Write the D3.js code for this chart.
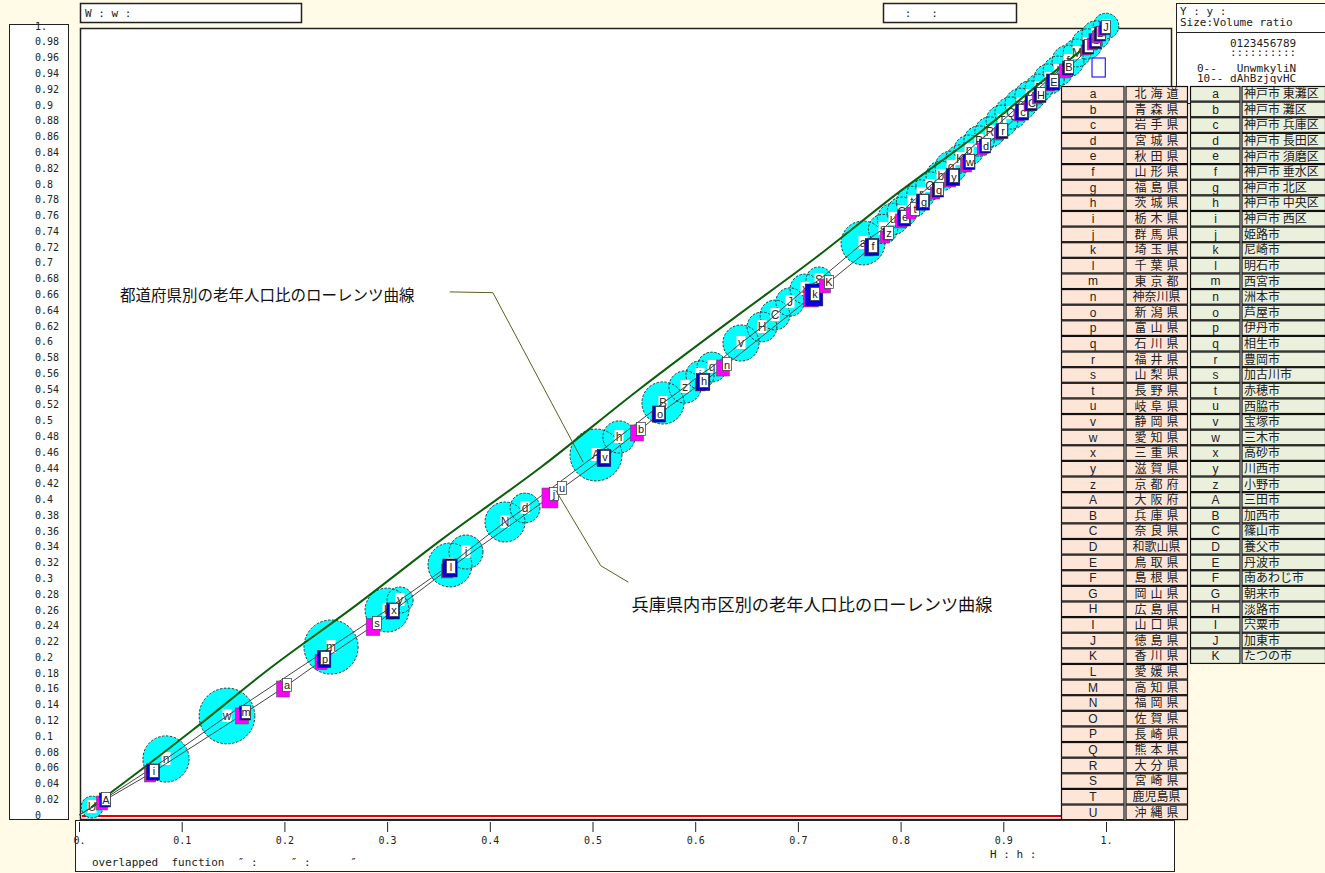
<!DOCTYPE html>
<html><head><meta charset="utf-8">
<script src="https://cdn.jsdelivr.net/npm/d3@7"></script>
<style>body{margin:0;background:#fffbe6;}svg{display:block;}</style>
</head><body>
<svg id="c" width="1325" height="873"></svg>
<script>
// ---------- DATA ----------
const xTickValues=[0,0.1,0.2,0.3,0.4,0.5,0.6,0.7,0.8,0.9,1];
const xTickLabels=["0.","0.1","0.2","0.3","0.4","0.5","0.6","0.7","0.8","0.9","1."];
const yTickValues=[0,0.02,0.04,0.06,0.08,0.1,0.12,0.14,0.16,0.18,0.2,0.22,0.24,0.26,0.28,0.3,0.32,0.34,0.36,0.38,0.4,0.42,0.44,0.46,0.48,0.5,0.52,0.54,0.56,0.58,0.6,0.62,0.64,0.66,0.68,0.7,0.72,0.74,0.76,0.78,0.8,0.82,0.84,0.86,0.88,0.9,0.92,0.94,0.96,0.98,1];
const yTickLabels=["0","0.02","0.04","0.06","0.08","0.1","0.12","0.14","0.16","0.18","0.2","0.22","0.24","0.26","0.28","0.3","0.32","0.34","0.36","0.38","0.4","0.42","0.44","0.46","0.48","0.5","0.52","0.54","0.56","0.58","0.6","0.62","0.64","0.66","0.68","0.7","0.72","0.74","0.76","0.78","0.8","0.82","0.84","0.86","0.88","0.9","0.92","0.94","0.96","0.98","1."];

// prefectures (table)
const prefLetters=["a","b","c","d","e","f","g","h","i","j","k","l","m","n","o","p","q","r","s","t","u","v","w","x","y","z","A","B","C","D","E","F","G","H","I","J","K","L","M","N","O","P","Q","R","S","T","U"];
const prefNames=["北 海 道","青 森 県","岩 手 県","宮 城 県","秋 田 県","山 形 県","福 島 県","茨 城 県","栃 木 県","群 馬 県","埼 玉 県","千 葉 県","東 京 都","神奈川県","新 潟 県","富 山 県","石 川 県","福 井 県","山 梨 県","長 野 県","岐 阜 県","静 岡 県","愛 知 県","三 重 県","滋 賀 県","京 都 府","大 阪 府","兵 庫 県","奈 良 県","和歌山県","鳥 取 県","島 根 県","岡 山 県","広 島 県","山 口 県","徳 島 県","香 川 県","愛 媛 県","高 知 県","福 岡 県","佐 賀 県","長 崎 県","熊 本 県","大 分 県","宮 崎 県","鹿児島県","沖 縄 県"];
// municipalities of Hyogo (table)
const muniLetters=["a","b","c","d","e","f","g","h","i","j","k","l","m","n","o","p","q","r","s","t","u","v","w","x","y","z","A","B","C","D","E","F","G","H","I","J","K"];
const muniNames=["神戸市 東灘区","神戸市 灘区","神戸市 兵庫区","神戸市 長田区","神戸市 須磨区","神戸市 垂水区","神戸市 北区","神戸市 中央区","神戸市 西区","姫路市","尼崎市","明石市","西宮市","洲本市","芦屋市","伊丹市","相生市","豊岡市","加古川市","赤穂市","西脇市","宝塚市","三木市","高砂市","川西市","小野市","三田市","加西市","篠山市","養父市","丹波市","南あわじ市","朝来市","淡路市","宍粟市","加東市","たつの市"];

// prefecture Lorenz curve (sorted order), cumulative share and volume ratio
const prefOrder=["U","n","w","m","k","y","l","i","N","d","A","h","B","z","j","q","v","H","C","J","x","S","a","s","u","G","t","r","O","b","g","K","p","P","R","T","Q","o","L","E","c","I","f","M","e","F","D"];
const prefCumX=[0.0127,0.0847,0.1441,0.2454,0.2999,0.3126,0.3612,0.3768,0.4148,0.4343,0.5034,0.5258,0.5686,0.5901,0.6047,0.6164,0.6446,0.6650,0.6777,0.6923,0.7069,0.7206,0.7634,0.7829,0.7926,0.8014,0.8111,0.8199,0.8286,0.8393,0.8491,0.8578,0.8666,0.8763,0.8870,0.8987,0.9075,0.9172,0.9260,0.9348,0.9445,0.9533,0.9630,0.9718,0.9815,0.9903,1.0];
const prefCumY=[0.0101,0.0710,0.1255,0.2129,0.2598,0.2725,0.3169,0.3333,0.3714,0.3891,0.4563,0.4791,0.5222,0.5425,0.5577,0.5678,0.5982,0.6185,0.6337,0.6502,0.6667,0.6781,0.7250,0.7427,0.7554,0.7643,0.7770,0.7871,0.7972,0.8099,0.8213,0.8314,0.8428,0.8542,0.8656,0.8796,0.8897,0.9011,0.9113,0.9214,0.9328,0.9430,0.9556,0.9658,0.9772,0.9886,1.0];
const prefVolume=[1.6,7.2,10.5,9.9,6.5,2.3,6.5,3.9,5.4,3.0,9.1,3.5,6.0,3.5,2.7,3.0,4.4,3.0,3.0,2.7,3.0,2.3,6.5,2.9,3.3,3.0,3.3,2.7,2.7,3.0,3.4,2.7,3.0,3.1,3.1,3.4,3.5,3.4,3.1,2.6,3.1,3.0,3.4,2.6,3.1,2.7,2.2];

// Hyogo municipalities Lorenz curve (sorted order)
const muniOrder=["A","i","m","a","p","s","x","l","j","u","v","b","o","h","n","k","K","f","z","e","t","g","q","y","w","d","r","c","C","H","E","B","F","I","G","D","J"];
const muniCumX=[0.0253,0.0721,0.1616,0.2016,0.2386,0.2892,0.3057,0.3612,0.4615,0.4693,0.5112,0.5463,0.5648,0.6076,0.6300,0.7157,0.7293,0.7722,0.7877,0.8033,0.8130,0.8218,0.8364,0.8510,0.8666,0.8822,0.8987,0.9182,0.9270,0.9357,0.9484,0.9630,0.9747,0.9825,0.9893,0.9942,0.9990];
const muniCumY=[0.0190,0.0545,0.1293,0.1635,0.1977,0.2421,0.2586,0.3131,0.4056,0.4132,0.4525,0.4880,0.5082,0.5488,0.5703,0.6591,0.6743,0.7199,0.7364,0.7567,0.7668,0.7769,0.7921,0.8086,0.8276,0.8479,0.8669,0.8910,0.9024,0.9125,0.9290,0.9468,0.9607,0.9734,0.9810,0.9899,0.9975];
const muniPopShare=[7.2,9.5,7.2,0,10.7,0.6,9.5,12.0,0,0,10.7,0,9.5,10.7,0,17.9,2.4,10.7,5.3,9.5,0,9.5,7.2,10.7,8.3,7.2,8.3,9.5,8.3,8.3,9.5,7.2,13.4,7.2,8.3,7.2,6.3];
const muniAgedShare=[7.2,7.2,9.5,9.5,8.3,10.7,3.7,7.2,14.8,0,3.7,9.5,3.7,5.3,9.5,12.0,7.2,5.3,5.3,7.2,5.3,3.7,5.3,7.2,7.2,5.3,5.3,5.3,3.7,5.3,5.3,7.2,0,3.7,5.3,5.3,3.7];

// overlapped function curve
const overX=[0.012,0.047,0.111,0.186,0.27,0.353,0.45,0.545,0.64,0.715,0.80,0.878,0.94,1.0];
const overY=[0.010,0.044,0.108,0.186,0.266,0.349,0.441,0.539,0.632,0.704,0.791,0.866,0.932,0.994];

// annotations
const annoTexts=["都道府県別の老年人口比のローレンツ曲線","兵庫県内市区別の老年人口比のローレンツ曲線"];
const annoPos=[[0.040,0.658],[0.538,0.266]];
const annoLeaders=[[[0.361,0.663],[0.403,0.662],[0.491,0.447]],[[0.535,0.295],[0.508,0.316],[0.464,0.412]]];

// ---------- DRAW ----------
const svg=d3.select("#c");
const W=1325,H=873;
const x=d3.scaleLinear().domain([0,1]).range([79,1106]);
const y=d3.scaleLinear().domain([0,1]).range([815,26]);
const rScale=d3.scaleSqrt().domain([0,10]).range([0,27.2]);
const sScale=d3.scaleSqrt().domain([0,10]).range([0,16.4]);
const MONO="DejaVu Sans Mono, Liberation Mono, monospace";
const SANS="Liberation Sans, Arial, sans-serif";
const JP="Noto Sans CJK JP, sans-serif";

svg.append("rect").attr("width",W).attr("height",H).attr("fill","#fffbe6");
// panels
svg.append("rect").attr("x",80.5).attr("y",28.5).attr("width",1091).attr("height",791).attr("fill","#fff").attr("stroke","#222").attr("stroke-width",1.5);
svg.append("rect").attr("x",9.5).attr("y",24.5).attr("width",59).attr("height",795).attr("fill","#fff").attr("stroke","#222");
svg.append("rect").attr("x",75.5).attr("y",820.5).attr("width",1099).attr("height",51).attr("fill","#fff").attr("stroke","#222");
svg.append("rect").attr("x",80.5).attr("y",3.5).attr("width",221).attr("height",19).attr("fill","#fff").attr("stroke","#222").attr("stroke-width",1.5);
svg.append("rect").attr("x",883.5).attr("y",3.5).attr("width",133).attr("height",19).attr("fill","#fff").attr("stroke","#222").attr("stroke-width",1.5);
svg.append("rect").attr("x",1176.5).attr("y",3.5).attr("width",150).attr("height",100).attr("fill","#fff").attr("stroke","#222");
svg.append("line").attr("x1",1177).attr("x2",1325).attr("y1",32.5).attr("y2",32.5).attr("stroke","#222");

svg.append("text").attr("x",85).attr("y",17).attr("font-family",MONO).attr("font-size",11).attr("fill","#222").attr("xml:space","preserve").text("W : w :");
svg.append("text").attr("x",885).attr("y",17).attr("font-family",MONO).attr("font-size",11).attr("fill","#222").attr("xml:space","preserve").text("   :   :");
svg.append("text").attr("x",1180).attr("y",15).attr("font-family",MONO).attr("font-size",11).attr("fill","#222").attr("xml:space","preserve").text("Y : y :");
svg.append("text").attr("x",1180).attr("y",26).attr("font-family",MONO).attr("font-size",11).attr("fill","#222").text("Size:Volume ratio");
const cw=6.62;
svg.append("text").attr("x",1230).attr("y",47).attr("font-family",MONO).attr("font-size",11).attr("fill","#222").text("0123456789");
svg.append("text").attr("x",1230).attr("y",56).attr("font-family",MONO).attr("font-size",11).attr("fill","#222").text("::::::::::");
// only the first two index rows lie in the visible part of the legend panel
const legRows=[];
for(let i=0;i<20;i+=10){
  const seq=[" "].concat(prefOrder).slice(i,i+10).join("");
  legRows.push({lab:(i+"--").padEnd(5," "),seq});
}
legRows.forEach((r,i)=>{
  svg.append("text").attr("x",1230-r.lab.length*cw).attr("y",72+i*10).attr("font-family",MONO).attr("font-size",11).attr("fill","#222").attr("xml:space","preserve").text(r.lab+r.seq);
});

// axes
const gx=svg.append("g").attr("transform","translate(0,822)")
  .call(d3.axisBottom(x).tickValues(xTickValues).tickFormat((d,i)=>xTickLabels[i]).tickSize(10).tickPadding(5));
gx.select(".domain").remove();
gx.selectAll("line").attr("stroke","#222");
gx.selectAll("text").attr("font-family",MONO).attr("font-size",10).attr("fill","#222");
const gy=svg.append("g").attr("transform","translate(35,0)")
  .call(d3.axisRight(y).tickValues(yTickValues).tickFormat((d,i)=>yTickLabels[i]).tickSize(0).tickPadding(0));
gy.select(".domain").remove();
gy.selectAll("text").attr("font-family",MONO).attr("font-size",10).attr("fill","#222").attr("text-anchor","start");

svg.append("text").attr("x",92).attr("y",866).attr("font-family",MONO).attr("font-size",11).attr("fill","#222").attr("xml:space","preserve").text("overlapped  function  \u2033 :     \u2033 :      \u2033");
svg.append("text").attr("x",990).attr("y",858).attr("font-family",MONO).attr("font-size",11).attr("fill","#222").attr("xml:space","preserve").text("H : h :");

// red baseline
svg.append("line").attr("x1",x(0)+3).attr("x2",1171).attr("y1",y(0)+1).attr("y2",y(0)+1).attr("stroke","#e00000").attr("stroke-width",2);

// prefecture circles
const pref=prefOrder.map((k,i)=>({k,cx:x(prefCumX[i]),cy:y(prefCumY[i]),r:rScale(prefVolume[i])}));
const gC=svg.append("g");
gC.selectAll("circle.f").data(pref).join("circle").attr("class","f").attr("cx",d=>d.cx).attr("cy",d=>d.cy).attr("r",d=>d.r).attr("fill","#00ffff");
gC.selectAll("circle.o").data(pref).join("circle").attr("class","o").attr("cx",d=>d.cx).attr("cy",d=>d.cy).attr("r",d=>d.r).attr("fill","none").attr("stroke","#333").attr("stroke-width",1).attr("stroke-dasharray","2.5,1.5");
const cl=gC.selectAll("g.l").data(pref).join("g").attr("class","l").attr("transform",d=>`translate(${d.cx},${d.cy})`);
cl.append("rect").attr("x",-4.5).attr("y",-7).attr("width",9).attr("height",13).attr("fill","#fff");
cl.append("text").attr("text-anchor","middle").attr("y",4).attr("font-family",SANS).attr("font-size",12).attr("fill","#333").text(d=>d.k);

// Lorenz chain lines
const line=d3.line().x(d=>x(d[0])).y(d=>y(d[1]));
svg.append("path").attr("d",line([[0,0]].concat(prefCumX.map((v,i)=>[v,prefCumY[i]])))).attr("fill","none").attr("stroke","#444").attr("stroke-width",1);
svg.append("path").attr("d",line([[0,0]].concat(muniCumX.map((v,i)=>[v,muniCumY[i]])))).attr("fill","none").attr("stroke","#444").attr("stroke-width",1);

// overlapped curve
svg.append("path").attr("d",d3.line().curve(d3.curveMonotoneX).x(d=>x(d[0])).y(d=>y(d[1]))(overX.map((v,i)=>[v,overY[i]])))
  .attr("fill","none").attr("stroke","#0b5e0b").attr("stroke-width",2);

// municipality markers
const muni=muniOrder.map((k,i)=>({k,px:x(muniCumX[i]),py:y(muniCumY[i]),b:sScale(muniPopShare[i]),m:sScale(muniAgedShare[i])}));
const gM=svg.append("g");
muni.forEach(d=>{
  const g=gM.append("g").attr("transform",`translate(${d.px},${d.py})`);
  if(d.k==="F"){
    g.append("rect").attr("x",12).attr("y",1).attr("width",d.b*0.7).attr("height",d.b).attr("fill","none").attr("stroke","#2020ff").attr("stroke-width",1.2);
    return;
  }
  if(d.m>0) g.append("rect").attr("x",-d.m*0.4-3).attr("y",-d.m/2+3).attr("width",d.m*0.8).attr("height",d.m).attr("fill","#ff00ff").attr("stroke","#555").attr("stroke-width",0.6);
  if(d.b>0) g.append("rect").attr("x",-d.b*0.4).attr("y",-d.b/2).attr("width",d.b*0.8).attr("height",d.b).attr("fill","#0000e0").attr("stroke","#222").attr("stroke-width",0.6);
  g.append("rect").attr("x",-3.5).attr("y",-7.5).attr("width",9).attr("height",13).attr("fill","#fff").attr("stroke","#333").attr("stroke-width",0.7);
  g.append("text").attr("x",1).attr("y",3.5).attr("text-anchor","middle").attr("font-family",SANS).attr("font-size",11).attr("fill","#222").text(d.k);
});

// annotations
annoLeaders.forEach(pts=>{
  svg.append("path").attr("d",line(pts)).attr("fill","none").attr("stroke","#5f5f20").attr("stroke-width",1);
});
const annoSize=[15.5,17.2];
annoTexts.forEach((t,i)=>{
  svg.append("text").attr("x",x(annoPos[i][0])).attr("y",y(annoPos[i][1])).attr("dy","0.35em").attr("font-family",JP).attr("font-size",annoSize[i]).attr("fill","#111").text(t);
});

// tables
const rowH=15.62,tTop=86;
function table(letters,names,x0,xs,x1,fill,anchorMid){
  const rows=d3.scaleBand().domain(d3.range(letters.length)).range([tTop,tTop+letters.length*rowH]);
  const g=svg.append("g");
  g.append("rect").attr("x",x0).attr("y",tTop).attr("width",x1-x0).attr("height",letters.length*rowH).attr("fill","#fff");
  letters.forEach((l,i)=>{
    const ty=rows(i);
    g.append("rect").attr("x",x0+0.5).attr("y",ty+0.5).attr("width",xs-x0-1.5).attr("height",rowH-1).attr("fill",fill).attr("stroke","#111").attr("stroke-width",1.2);
    g.append("rect").attr("x",xs+1).attr("y",ty+0.5).attr("width",x1-xs-1.5).attr("height",rowH-1).attr("fill",fill).attr("stroke","#111").attr("stroke-width",1.2);
    g.append("text").attr("x",(x0+xs)/2).attr("y",ty+rowH/2).attr("dy","0.35em").attr("text-anchor","middle").attr("font-family",SANS).attr("font-size",12).attr("fill","#222").text(l);
    const t=g.append("text").attr("x",anchorMid?(xs+x1)/2:xs+3).attr("y",ty+rowH/2).attr("dy","0.36em").attr("text-anchor",anchorMid?"middle":"start").attr("font-family",JP).attr("font-size",12).attr("fill","#222").attr("xml:space","preserve").text(names[i]);
    if(anchorMid && names[i].indexOf(" ")>=0) t.attr("textLength",44).attr("lengthAdjust","spacing");
  });
}
table(prefLetters,prefNames,1061,1125,1188,"#fde6d8",true);
table(muniLetters,muniNames,1190,1241,1326,"#eaf0dc",false);
</script>
</body></html>
